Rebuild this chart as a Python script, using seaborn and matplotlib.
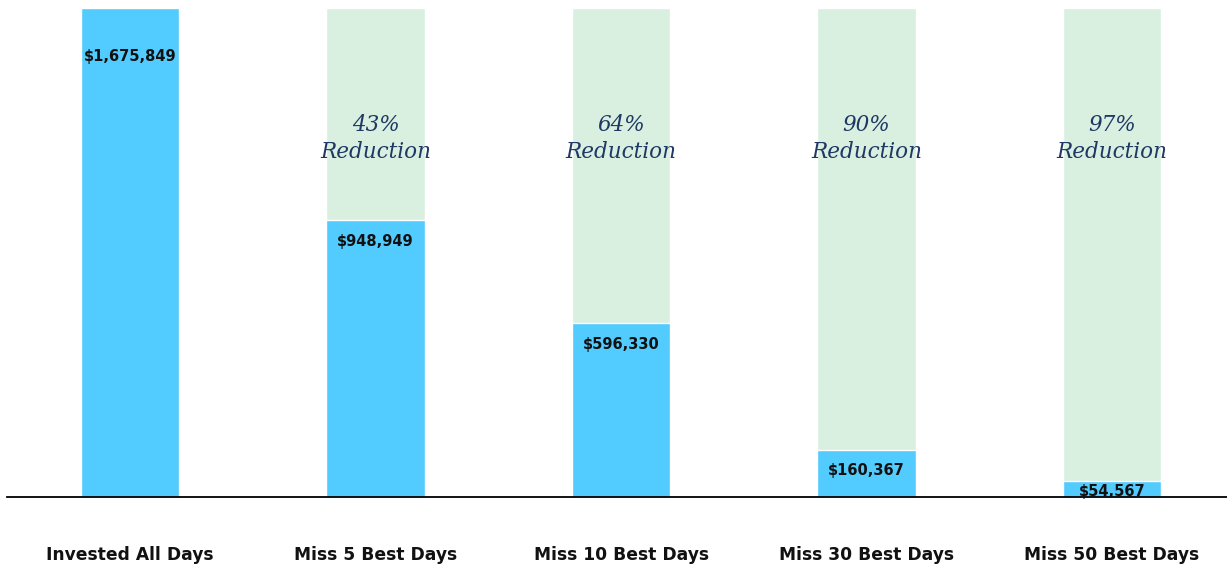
import matplotlib.pyplot as plt
import seaborn as sns
import numpy as np
import pandas as pd

# 데이터
categories = ['Invested All Days', 'Miss 5 Best Days', 'Miss 10 Best Days',
              'Miss 30 Best Days', 'Miss 50 Best Days']
values = [1675849, 948949, 596330, 160367, 54567]
reductions = ['', '43%\nReduction', '64%\nReduction', '90%\nReduction', '97%\nReduction']

total = values[0]
df = pd.DataFrame({'category': categories, 'value': values, 'total': [total] * len(values)})

sns.set_style('white')
fig = plt.figure(figsize=(12.27, 5.65), dpi=100)
ax = fig.add_axes([7.25 / 1227, 68 / 565, 1 - 7.25 / 1227, 497 / 565])

# 배경 막대 (전체 금액)
sns.barplot(df, x='category', y='total', color='#d9efe0', width=0.4, saturation=1, ax=ax)
# 실제 금액 막대
sns.barplot(df, x='category', y='value', color='#52cbfe', width=0.4, saturation=1, ax=ax)

ax.set_xlim(-0.5, (1227 - 130) / 245.5)
ax.set_ylim(0, total * 497 / 489)

# 금액 라벨
offsets = [-48, -21, -22, -20, -10]
for i, v in enumerate(values):
    ax.annotate(f'${v:,}', (i, v), xytext=(0, offsets[i]), textcoords='offset pixels',
                ha='center', va='center', fontsize=10.5, fontweight='bold',
                family='DejaVu Sans', color='#111111')

# 감소율 라벨
for i, r in enumerate(reductions):
    if r:
        ax.text(i, total * 0.733, r, ha='center', va='center', fontsize=15.5,
                style='italic', family='DejaVu Serif', color='#1f3864', linespacing=1.25)

ax.set_xlabel('')
ax.set_ylabel('')
ax.set_yticks([])
ax.tick_params(axis='x', length=0, pad=35)
for lbl in ax.get_xticklabels():
    lbl.set_fontweight('bold')
    lbl.set_fontsize(12.3)
    lbl.set_family('DejaVu Sans')
    lbl.set_color('#111111')

for s in ['top', 'left', 'right']:
    ax.spines[s].set_visible(False)
ax.spines['bottom'].set_color('black')
ax.spines['bottom'].set_linewidth(1.3)

fig.savefig('out.png', dpi=100)
